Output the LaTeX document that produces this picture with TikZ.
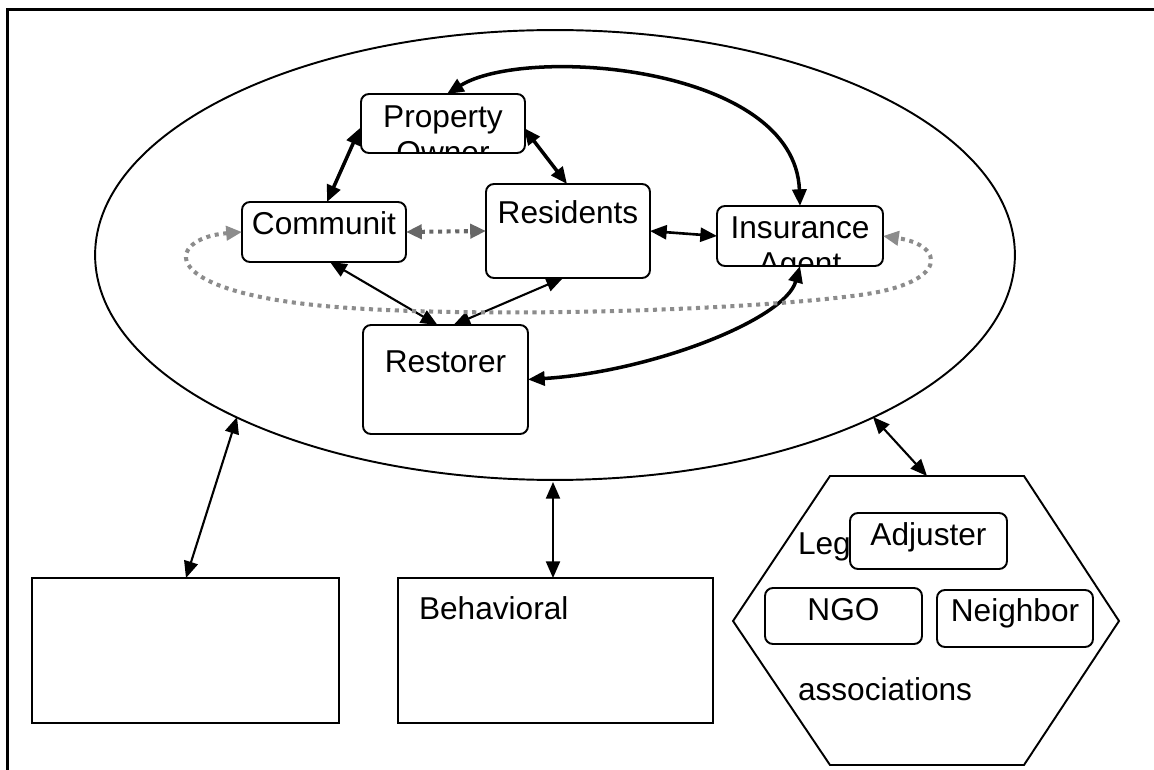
\documentclass[tikz,border=0pt]{standalone}
\usepackage{fontspec}
\setmainfont{Liberation Sans}
\usetikzlibrary{arrows.meta,shapes.geometric,calc}
\definecolor{loopgray}{HTML}{8C8C8C}
\definecolor{linkgray}{HTML}{676767}
\begin{document}
\begin{tikzpicture}[x=0.02cm,y=-0.02cm,
  font=\fontsize{18pt}{21pt}\selectfont,
  every node/.style={inner sep=0pt, outer sep=0pt},
  rbox/.style={draw, line width=1.1pt, rounded corners=4.5pt, fill=white},
  sbox/.style={draw, line width=1.3pt, fill=white},
  lbl/.style={anchor=base},
  lblw/.style={anchor=base west},
  dbl/.style={{Triangle[length=9.5pt,width=8pt]}-{Triangle[length=9.5pt,width=8pt]}},
  heavy/.style={dbl, line width=2pt},
  medium/.style={dbl, line width=1.5pt},
  light/.style={dbl, line width=1.2pt},
  dots/.style={line width=2.3pt, dash pattern=on 2.3pt off 2.6pt,
    {Triangle[length=9pt,width=8pt]}-{Triangle[length=9pt,width=8pt]}},
]
\clip (0,0) rectangle (1154,770);
% outer frame
\draw[line width=1.7pt] (7.5,9.5) rectangle (1200,820);

% ecosystem ellipse
\node[draw, ellipse, line width=1.1pt, minimum width=18.4cm, minimum height=9cm] (eco) at (555,255) {};

% actor boxes
\node[rbox, minimum width=3.28cm, minimum height=1.18cm,
  path picture={
    \node[lbl] (poA) at ($(path picture bounding box.north)+(0,33)$) {Property};
    \node[lbl] (poB) at ($(path picture bounding box.north)+(0,69)$) {Owner};
  }] (po) at (443,123.5) {};
\node[rbox, minimum width=3.28cm, minimum height=1.2cm] (comm) at (324,232) {};
\node[lbl] (commT) at (324,235) {Communit};
\node[rbox, minimum width=3.28cm, minimum height=1.88cm] (res) at (568,231) {};
\node[lbl] (resT) at (568,224) {Residents};
\node[rbox, minimum width=3.32cm, minimum height=1.2cm,
  path picture={
    \node[lbl] (insA) at ($(path picture bounding box.north)+(0,32)$) {Insurance};
    \node[lbl] (insB) at ($(path picture bounding box.north)+(0,68)$) {Agent};
  }] (ins) at (800,236) {};
\node[rbox, minimum width=3.3cm, minimum height=2.18cm] (rest) at (445.5,379.5) {};
\node[lbl] (restT) at (445.5,373) {Restorer};

% links inside the ecosystem
\draw[heavy] (po.north) ++(4,0) coordinate (poN)
  (poN) .. controls (525,45) and (795,65) .. (ins.north);
\draw[heavy] (360,128) coordinate (poW) -- ($(comm.north)+(3,0)$);
\draw[heavy] (524,128) coordinate (poE) -- ($(res.north)+(-1,0)$);
\draw[dots, linkgray] (comm.east) -- (res.west);
\draw[medium] (res.east) -- (ins.west);
\draw[light] ($(comm.south)+(6,0)$) -- ($(rest.north)+(-8,0)$);
\draw[light] ($(res.south)+(-5,0)$) -- ($(rest.north)+(8,0)$);
\draw[heavy] (ins.south) .. controls (785,320) and (650,372) .. (rest.east);
\draw[dots, loopgray] (comm.west) .. controls (165,238) and (150,295) .. (350,308)
  .. controls (500,318) and (750,310) .. (860,295)
  .. controls (950,283) and (945,245) .. (ins.east);

% external boxes
\node[sbox, minimum width=6.14cm, minimum height=2.9cm] (ext) at (185.5,650.5) {};
\node[sbox, minimum width=6.3cm, minimum height=2.9cm] (beh) at (555.5,650.5) {};
\node[lblw] (behT) at (419,619) {Behavioral};

% hexagon of other actors
\coordinate (hexN) at (927,476);
\draw[line width=1.1pt] (830,476) -- (1024,476) -- (1119,621) -- (1024,765)
  -- (830,765) -- (733,621) -- cycle;
\node[lblw] (legT) at (798,554) {Leg};
\node[rbox, minimum width=3.14cm, minimum height=1.12cm] (adj) at (928.5,541) {};
\node[lbl] (adjT) at (928.5,545) {Adjuster};
\node[rbox, minimum width=3.14cm, minimum height=1.12cm] (ngo) at (843.5,616) {};
\node[lbl] (ngoT) at (843.5,620) {NGO};
\node[rbox, minimum width=3.12cm, minimum height=1.14cm] (nei) at (1015,618.5) {};
\node[lbl] (neiT) at (1015,622) {Neighbor};
\node[lblw] (assocT) at (798,700) {associations};

% links to the outside
\coordinate (ecoS) at (553,482);
\draw[light] (237,417) coordinate (ecoL) -- ($(ext.north)+(0.5,0)$);
\draw[light] (ecoS) -- ($(beh.north)+(-2.5,0)$);
\draw[light] (873,417) coordinate (ecoR) -- (hexN);
\end{tikzpicture}
\end{document}
